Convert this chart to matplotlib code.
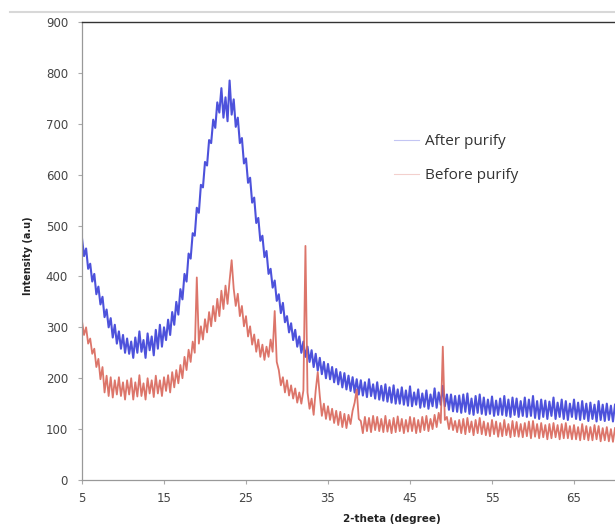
import numpy as np
import matplotlib
matplotlib.use("Agg")
import matplotlib.pyplot as plt
from matplotlib.lines import Line2D

# 2-theta grid, 0.25 degree steps from 5 to 70
two_theta = np.arange(5, 70.001, 0.25)

# intensity, 4 points per degree
after_purify = [
    475, 440, 455, 415,  425, 390, 405, 365,  380, 345, 360, 320,  335, 300, 318, 280,
    305, 268, 292, 258,  285, 250, 278, 248,  272, 240, 280, 250,  292, 252, 275, 240,
    288, 255, 282, 245,  295, 258, 305, 262,  300, 275, 315, 285,  330, 305, 350, 325,
    375, 355, 405, 390,  445, 435, 485, 480,  535, 525, 580, 575,  625, 618, 668, 662,
    708, 692, 742, 722,  770, 712, 752, 705,  785, 718, 748, 694,  712, 662, 672, 622,
    632, 584, 594, 545,  555, 505, 515, 470,  480, 438, 450, 405,  415, 378, 392, 352,
    365, 328, 348, 310,  322, 290, 308, 275,  295, 262, 282, 250,  272, 242, 262, 232,
    255, 222, 248, 215,  240, 208, 232, 200,  228, 198, 222, 192,  218, 188, 212, 182,
    210, 178, 205, 175,  202, 172, 198, 168,  196, 166, 192, 163,  198, 165, 188, 160,
    192, 158, 185, 156,  188, 154, 182, 152,  186, 150, 178, 150,  182, 148, 176, 146,
    184, 145, 172, 148,  178, 142, 170, 144,  176, 140, 168, 145,  180, 142, 172, 148,
    185, 145, 168, 138,  168, 135, 165, 134,  166, 132, 168, 134,  170, 130, 160, 128,
    165, 132, 168, 130,  162, 128, 158, 130,  164, 126, 156, 128,  160, 128, 165, 126,
    158, 124, 162, 128,  160, 124, 155, 126,  162, 124, 158, 126,  165, 122, 155, 120,
    158, 124, 156, 120,  154, 126, 162, 120,  152, 124, 158, 120,  155, 118, 150, 124,
    158, 120, 152, 118,  155, 120, 150, 116,  152, 120, 148, 115,  155, 118, 148, 116,
    150, 118, 146, 115,  148,
]

before_purify = [
    312, 285, 300, 268,  278, 248, 258, 222,  238, 198, 222, 172,  205, 165, 202, 162,
    196, 168, 202, 165,  192, 158, 196, 168,  200, 158, 192, 164,  206, 165, 190, 158,
    200, 170, 196, 163,  205, 170, 196, 165,  202, 175, 206, 172,  212, 182, 216, 190,
    226, 200, 242, 216,  256, 232, 272, 250,  398, 268, 302, 276,  316, 290, 330, 302,
    342, 312, 356, 322,  372, 336, 382, 346,  392, 432, 376, 342,  366, 322, 342, 302,
    322, 282, 302, 266,  286, 252, 276, 242,  266, 236, 262, 242,  276, 252, 332, 232,
    216, 186, 202, 172,  196, 166, 186, 160,  180, 152, 172, 150,  176, 460, 172, 140,
    160, 128, 176, 212,  165, 126, 150, 120,  145, 118, 140, 112,  136, 108, 134, 104,
    130, 102, 128, 110,  136, 152, 178, 120,  116, 92, 124, 96,    122, 94, 126, 98,
    124, 96, 120, 94,    126, 95, 118, 92,    122, 94, 125, 96,    120, 92, 118, 95,
    124, 96, 122, 92,    118, 94, 124, 98,    126, 96, 120, 100,   128, 104, 132, 112,
    262, 118, 124, 100,  122, 98, 116, 94,    118, 92, 120, 90,    122, 94, 115, 88,
    118, 92, 122, 90,    115, 88, 112, 86,    118, 90, 115, 85,    112, 86, 118, 88,
    110, 84, 116, 86,    114, 85, 110, 84,    112, 86, 115, 82,    116, 85, 110, 82,
    112, 84, 108, 80,    110, 82, 112, 84,    108, 80, 110, 82,    112, 82, 106, 80,
    108, 80, 104, 78,    110, 80, 106, 78,    104, 78, 108, 80,    106, 76, 102, 78,
    104, 76, 100, 75,    102,
]

x_ticks = [5, 15, 25, 35, 45, 55, 65]
y_ticks = [0, 100, 200, 300, 400, 500, 600, 700, 800, 900]

blue = "#3a3fd8"
red = "#d9665a"

fig = plt.figure(figsize=(6.15, 5.31), dpi=100)
ax = fig.add_axes([82 / 615, 51 / 531, 1 - 82 / 615, 458 / 531])

# faint outer chart border
fig.add_artist(Line2D([10 / 615, 1], [1 - 12 / 531, 1 - 12 / 531], color="#d8d8d8", lw=1.5))

ax.plot(two_theta, after_purify, color=blue, lw=1.5, alpha=0.9)
ax.plot(two_theta, before_purify, color=red, lw=1.3, alpha=0.9)

ax.set_xlim(5, 70)
ax.set_ylim(0, 900)
ax.set_xticks(x_ticks)
ax.set_yticks(y_ticks)
ax.tick_params(labelsize=8.5, labelcolor="#444444", length=3, width=0.8, color="#aaaaaa")
ax.tick_params(axis="y", pad=7)
ax.tick_params(axis="x", pad=6)

for s in ["left", "bottom"]:
    ax.spines[s].set_color("#999999")
    ax.spines[s].set_linewidth(0.9)
ax.spines["top"].set_color("#333333")
ax.spines["top"].set_linewidth(1.0)
ax.spines["right"].set_visible(False)

ax.set_xlabel("2-theta (degree)", fontsize=7.5, fontweight="bold", color="#222222")
ax.xaxis.set_label_coords((392 - 82) / 533, -34 / 458)
ax.set_ylabel("Intensity (a.u)", fontsize=7, fontweight="bold", color="#222222")
ax.yaxis.set_label_coords(-49 / 533, 0.49)

handles = [Line2D([], [], color=blue, lw=0.8, alpha=0.3),
           Line2D([], [], color=red, lw=0.8, alpha=0.3)]
leg = ax.legend(handles, ["After purify", "Before purify"], loc="upper left",
                bbox_to_anchor=(0.56, 0.785), frameon=False, handlelength=1.6,
                handletextpad=0.4, labelspacing=1.25,
                prop={"family": "Open Sans", "size": 11})
for t in leg.get_texts():
    t.set_color("#333333")

fig.savefig("out.png", dpi=100)
